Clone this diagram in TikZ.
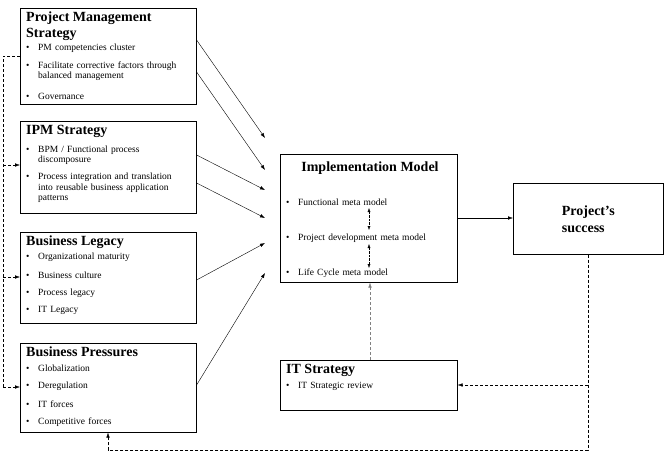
\documentclass[tikz,border=0pt]{standalone}
\usepackage{fontspec}
\setmainfont{Liberation Serif}
\usetikzlibrary{positioning,arrows.meta}
\tikzset{
  box/.style={draw,semithick,anchor=north west,inner sep=0pt},
  ttl/.style={anchor=north west,font=\bfseries\fontsize{14}{14}\selectfont,align=left,inner sep=0pt},
  itm/.style={anchor=west,font=\fontsize{9.5}{10.5}\selectfont,align=left,inner sep=0pt,text width=#1},
  itm/.default=160pt,
  flow/.style={-{Latex[length=5pt,width=3.5pt]},thin},
  fb/.style={densely dashed,-{Latex[length=5pt,width=3.5pt]},thin}
}
\newcommand{\bul}{\makebox[12pt][l]{\textbullet}}
\begin{document}
\begin{tikzpicture}[x=1pt,y=-1pt]
\useasboundingbox (0,0) rectangle (665,453);
% boxes
\node[box,minimum width=176pt,minimum height=96pt] (pm) at (20,8) {};
\node[box,minimum width=176pt,minimum height=92pt] (ipm) at (20,121) {};
\node[box,minimum width=176pt,minimum height=91pt] (bl) at (20,232) {};
\node[box,minimum width=176pt,minimum height=89pt] (bp) at (20,343) {};
\node[box,minimum width=177pt,minimum height=128pt] (im) at (280,154) {};
\node[box,minimum width=150pt,minimum height=71pt] (ps) at (513,183) {};
\node[box,minimum width=177pt,minimum height=50pt] (it) at (280,360) {};
% texts
\node[ttl] at (26,12) {Project Management\\[2pt]Strategy};
\node[itm] at (26,48) {\bul PM competencies cluster};
\node[itm] at (26,71) {\bul Facilitate corrective factors through\\\hspace*{12pt}balanced management};
\node[itm] at (26,96) {\bul Governance};
\node[ttl] at (26,125) {IPM Strategy};
\node[itm] at (26,155) {\bul BPM / Functional process\\\hspace*{12pt}discomposure};
\node[itm] at (26,188) {\bul Process integration and translation\\\hspace*{12pt}into reusable business application\\\hspace*{12pt}patterns};
\node[ttl] at (26,236) {Business Legacy};
\node[itm] at (26,257) {\bul Organizational maturity};
\node[itm] at (26,275) {\bul Business culture};
\node[itm] at (26,293) {\bul Process legacy};
\node[itm] at (26,310) {\bul IT Legacy};
\node[ttl] at (26,347) {Business Pressures};
\node[itm] at (26,368) {\bul Globalization};
\node[itm] at (26,386) {\bul Deregulation};
\node[itm] at (26,404) {\bul IT forces};
\node[itm] at (26,422) {\bul Competitive forces};
\node[ttl,anchor=north] at (370,162) {Implementation Model};
\node[itm] (f1) at (286,202) {\bul Functional meta model};
\node[itm] (f2) at (286,238) {\bul Project development meta model};
\node[itm] (f3) at (286,273) {\bul Life Cycle meta model};
\node[font=\bfseries\fontsize{14}{17}\selectfont,align=left] at (ps.center) {Project's\\success};
\node[ttl] at (286,364) {IT Strategy};
\node[itm] at (286,386) {\bul IT Strategic review};
% flows into the model
\coordinate (a1) at (265,138); \coordinate (a2) at (265,170);
\coordinate (a3) at (265,190); \coordinate (a4) at (265,218);
\coordinate (a5) at (265,243); \coordinate (a6) at (265,273);
\draw[flow] (pm.east |- 0,40) -- (a1);
\draw[flow] (pm.east |- 0,72) -- (a2);
\draw[flow] (ipm.east |- 0,155) -- (a3);
\draw[flow] (ipm.east |- 0,183) -- (a4);
\draw[flow] (bl.east |- 0,280) -- (a5);
\draw[flow] (bp.east |- 0,385) -- (a6);
\draw[flow] (im.east |- 0,218) -- (ps.west |- 0,218);
\draw[densely dotted,{Latex[length=4pt,width=3pt]}-{Latex[length=4pt,width=3pt]}] (369,208) -- (369,230);
\draw[densely dotted,{Latex[length=4pt,width=3pt]}-{Latex[length=4pt,width=3pt]}] (369,244) -- (369,268);
% feedback
\draw[fb,gray] (it.north -| 370,0) -- (im.south -| 370,0);
\coordinate (c1) at (588,385); \coordinate (c2) at (588,450); \coordinate (c3) at (108,450);
\draw[fb] (ps.south -| 588,0) -- (c2) -- (c3) -- (bp.south -| 108,0);
\draw[fb] (c1) -- (it.east |- c1);
\coordinate (l0) at (3,56); \coordinate (l1) at (3,387);
\draw[densely dashed] (pm.west |- l0) -- (l0) -- (l1);
\draw[fb] (l1) -- (bp.west |- l1);
\draw[fb] (3,165) -- (ipm.west |- 0,165);
\draw[fb] (3,277) -- (bl.west |- 0,277);
\end{tikzpicture}
\end{document}
